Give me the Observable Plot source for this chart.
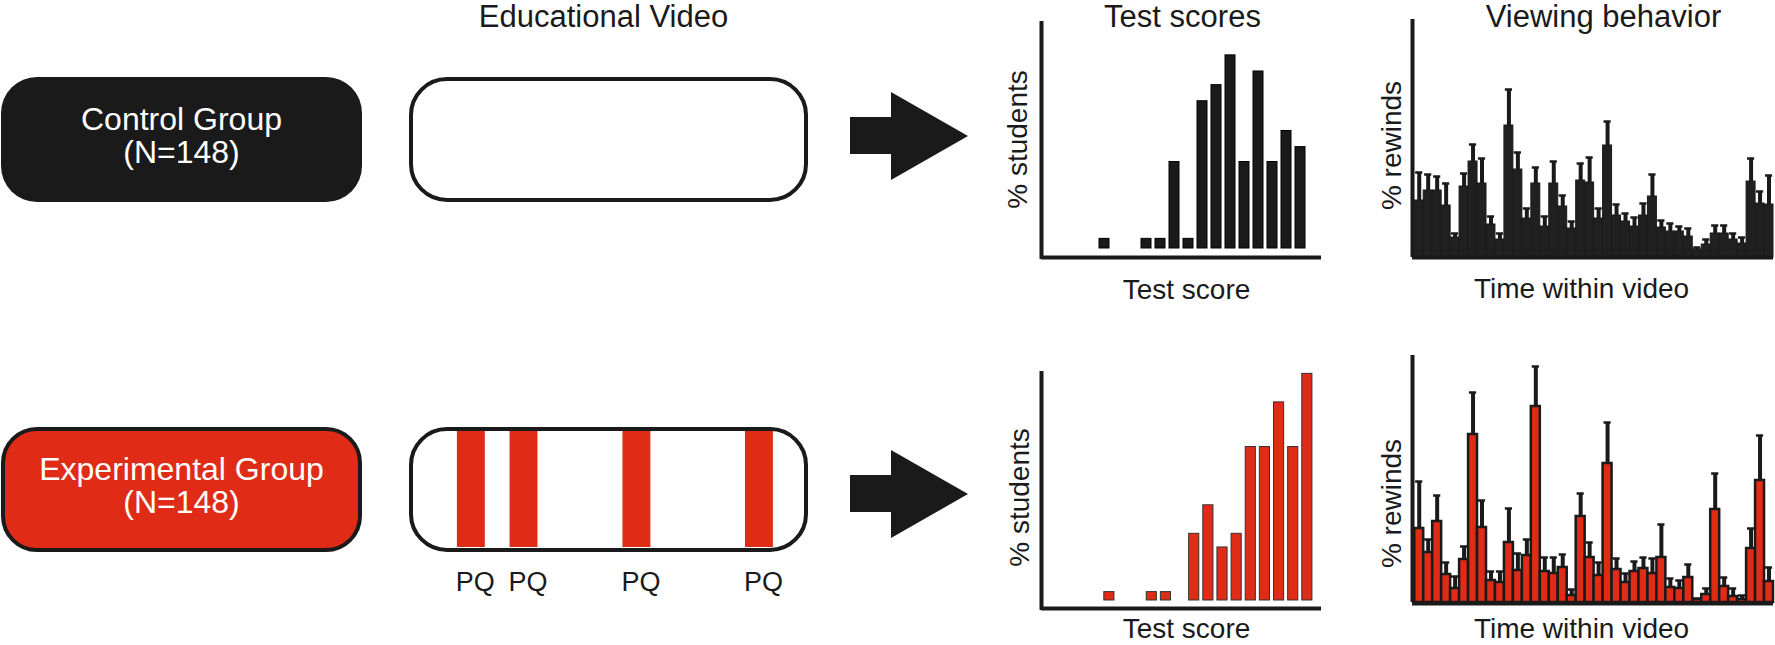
<!DOCTYPE html>
<html><head><meta charset="utf-8">
<script src="https://cdn.jsdelivr.net/npm/d3@7"></script>
<script src="https://cdn.jsdelivr.net/npm/@observablehq/plot@0.6"></script>
<style>
html,body{margin:0;padding:0;background:#fff;}
#root{position:relative;width:1775px;height:645px;overflow:hidden;font-family:"Liberation Sans",Arial,sans-serif;color:#1a1a1a;}
.slot{position:absolute;}
.group{position:absolute;left:1px;width:361px;height:125px;box-sizing:border-box;border-radius:36px;display:flex;align-items:center;justify-content:center;text-align:center;color:#fff;font-size:32px;line-height:33px;padding-bottom:8px;}
.video{position:absolute;left:409px;width:399px;height:125px;box-sizing:border-box;border:4px solid #1a1a1a;border-radius:38px;background:#fff;}
.arrow-body{position:absolute;left:850px;width:42px;height:37px;background:#1a1a1a;}
.arrow-head{position:absolute;left:891px;width:0;height:0;border-left:77px solid #1a1a1a;border-top:44px solid transparent;border-bottom:44px solid transparent;}
</style></head>
<body><div id="root"></div>
<script>
const BLACK = "#1a1a1a", RED = "#e02b17";
const FONT = '"Liberation Sans", Arial, sans-serif';

// ---- data ----
const groupNames = ["Control Group", "Experimental Group"];
const groupN = [148, 148];
const panelTitles = ["Educational Video", "Test scores", "Viewing behavior"];
const pqLabel = "PQ";
const pqPositions = [15.5, 28.7, 57.0, 87.7];   // % of video duration (experimental only)
const pqWidth = 7.0;                            // % of video duration

const controlScores = [4, 7, 8, 9, 10, 11, 12, 13, 14, 15, 16, 17, 18];
const controlPct    = [1.1, 1.1, 1.1, 7.3, 1.1, 12.2, 13.5, 15.9, 7.3, 14.6, 7.3, 9.8, 8.5];
const expScores     = [4, 7, 8, 10, 11, 12, 13, 14, 15, 16, 17, 18];
const expPct        = [1.0, 1.0, 1.0, 5.7, 8.0, 4.6, 5.7, 12.7, 12.7, 16.3, 12.7, 18.6];

const controlRewinds = [5.7, 6.7, 6.7, 5.2, 2.0, 7.1, 9.6, 7.4, 3.3, 1.8, 13.2, 8.8, 3.9, 7.4, 3.1, 7.4, 5.1, 2.9, 7.7, 7.5,
                        3.9, 11.2, 4.2, 3.6, 3.1, 4.2, 6.1, 3.0, 2.6, 2.6, 2.1, 0.8, 1.3, 2.4, 2.4, 1.8, 1.4, 7.6, 5.4, 5.3];
const controlRewindsHi = [8.5, 8.3, 8.1, 7.4, 2.4, 8.4, 11.3, 9.9, 4.1, 2.4, 16.8, 10.5, 4.9, 9.0, 4.1, 9.6, 6.2, 3.6, 9.4, 10.0,
                          4.9, 13.6, 5.3, 4.4, 4.0, 5.4, 8.3, 3.7, 3.4, 3.1, 2.9, 1.0, 1.8, 3.2, 3.2, 2.4, 2.0, 9.9, 6.6, 8.2];
const expRewinds = [7.4, 5.0, 8.1, 2.8, 1.4, 4.3, 16.8, 7.5, 2.2, 2.0, 6.0, 3.2, 4.7, 19.6, 3.1, 2.9, 3.5, 0.7, 8.6, 4.5,
                    2.7, 13.9, 3.3, 2.0, 3.1, 3.4, 2.9, 4.5, 1.5, 1.4, 2.5, 0.3, 0.8, 9.3, 1.6, 0.6, 0.3, 5.4, 12.2, 2.1];
const expRewindsHi = [12.1, 6.3, 10.7, 4.0, 2.6, 5.6, 21.0, 10.2, 3.1, 3.1, 9.4, 4.9, 6.3, 23.6, 4.5, 4.5, 4.8, 1.3, 10.9, 6.0,
                      4.0, 18.0, 4.4, 2.9, 4.1, 4.5, 4.4, 7.8, 2.4, 2.2, 3.8, 0.4, 1.4, 12.9, 2.5, 1.4, 0.7, 7.4, 16.7, 3.5];

const root = document.getElementById("root");
function place(node, left, top) {
  const d = document.createElement("div");
  d.className = "slot";
  d.style.left = left + "px"; d.style.top = top + "px";
  d.appendChild(node); root.appendChild(d); return d;
}
const baseStyle = {fontFamily: FONT, background: "transparent", overflow: "visible", maxWidth: "none", color: BLACK};

// ---- group boxes, video boxes, arrows ----
const rowTop = [77, 427];
groupNames.forEach((name, i) => {
  const g = document.createElement("div");
  g.className = "group";
  g.style.top = rowTop[i] + "px";
  g.style.background = i === 0 ? BLACK : RED;
  if (i === 1) g.style.border = "4px solid " + BLACK;
  g.innerHTML = name + "<br>(N=" + groupN[i] + ")";
  root.appendChild(g);
  const v = document.createElement("div");
  v.className = "video"; v.style.top = rowTop[i] + "px";
  root.appendChild(v);
});
[[117, 92], [475, 450]].forEach(([bt, ht]) => {
  const b = document.createElement("div"); b.className = "arrow-body"; b.style.top = bt + "px"; root.appendChild(b);
  const h = document.createElement("div"); h.className = "arrow-head"; h.style.top = ht + "px"; root.appendChild(h);
});

// ---- video timelines (practice-question stripes) ----
place(Plot.plot({
  width: 399, height: 202, marginLeft: 0, marginRight: 0, marginTop: 81, marginBottom: 4,
  x: {domain: [0, 100], axis: null}, style: baseStyle,
  marks: [
    Plot.text([panelTitles[0]], {frameAnchor: "top", lineAnchor: "bottom", textAnchor: "middle", dy: -55, dx: -5.5, fontSize: 31, fill: BLACK})
  ]
}), 409, 0);

place(Plot.plot({
  width: 399, height: 175, marginLeft: 0, marginRight: 0, marginTop: 4, marginBottom: 55,
  x: {domain: [0, 100], axis: null}, style: baseStyle,
  marks: [
    Plot.rect(pqPositions, {x1: d => d - pqWidth / 2, x2: d => d + pqWidth / 2, fill: RED}),
    Plot.text(pqPositions, {x: d => d, text: () => pqLabel, frameAnchor: "bottom", lineAnchor: "bottom", dy: 43, dx: 4, fontSize: 27, fill: BLACK})
  ]
}), 409, 427);

// ---- test score histograms ----
function histogram(scores, pct, opts) {
  const data = scores.map((s, i) => ({score: s, pct: pct[i]}));
  const marks = [
    Plot.rect(data, {x1: "score", x2: d => d.score + 1, y1: 0, y2: "pct", inset: 2,
      fill: opts.fill, stroke: opts.stroke, strokeWidth: 1}),
    Plot.ruleX([opts.xDomain[0]], {stroke: BLACK, strokeWidth: 4}),
    Plot.ruleY([0], {stroke: BLACK, strokeWidth: 4, dy: opts.axisDy}),
    Plot.text(["Test score"], {frameAnchor: "bottom", lineAnchor: "bottom", textAnchor: "middle", dy: opts.xLabelDy, dx: 5, fontSize: 28, fill: BLACK}),
    Plot.text(["% students"], {frameAnchor: "left", lineAnchor: "bottom", textAnchor: "middle", rotate: -90, dx: opts.yLabelDx, dy: opts.yLabelDy, fontSize: 28, fill: BLACK})
  ];
  if (opts.title) marks.push(Plot.text([opts.title], {frameAnchor: "top", lineAnchor: "bottom", textAnchor: "middle", dy: 5, dx: 1, fontSize: 31, fill: BLACK}));
  return Plot.plot({
    width: 340, height: opts.height, marginLeft: 51, marginRight: 9, marginTop: opts.mt, marginBottom: opts.mb,
    x: {domain: opts.xDomain, axis: null},
    y: {domain: [0, opts.yMax], axis: null, insetBottom: opts.insetBottom},
    style: baseStyle, marks
  });
}
place(histogram(controlScores, controlPct, {fill: BLACK, stroke: "#000", xDomain: [0, 20], yMax: 18.47, height: 310,
  mt: 21, mb: 51, insetBottom: 9, axisDy: 7, xLabelDy: 39, yLabelDx: -15, yLabelDy: -1, title: panelTitles[1]}), 990, 0);
place(histogram(expScores, expPct, {fill: RED, stroke: "#333", xDomain: [-0.3, 19.5], yMax: 18.63, height: 315,
  mt: 41, mb: 35, insetBottom: 8, axisDy: 6, xLabelDy: 27, yLabelDx: -13, yLabelDy: 6.5}), 990, 330);

// ---- rewind bar charts with error bars ----
function rewinds(vals, his, opts) {
  const data = vals.map((v, i) => ({i, v, hi: his[i]}));
  const marks = [
    Plot.rect(data, {x1: "i", x2: d => d.i + 1, y1: 0, y2: "v", fill: opts.fill, stroke: BLACK, strokeWidth: opts.sw}),
    Plot.ruleX(data, {x: d => d.i + 0.5, y1: "v", y2: "hi", stroke: BLACK, strokeWidth: 4}),
    Plot.ruleY(data, {x1: d => d.i + 0.1, x2: d => d.i + 0.9, y: "hi", stroke: BLACK, strokeWidth: 2.5}),
    Plot.ruleX([-0.25], {stroke: BLACK, strokeWidth: 4}),
    Plot.ruleY([0], {stroke: BLACK, strokeWidth: 4, dy: opts.axisDy}),
    Plot.text(["Time within video"], {frameAnchor: "bottom", lineAnchor: "bottom", textAnchor: "middle", dy: opts.xLabelDy, dx: -11.5, fontSize: 28, fill: BLACK}),
    Plot.text(["% rewinds"], {frameAnchor: "left", lineAnchor: "bottom", textAnchor: "middle", rotate: -90, dx: -12, dy: opts.yLabelDy, fontSize: 28, fill: BLACK})
  ];
  if (opts.title) marks.push(Plot.text([opts.title], {frameAnchor: "top", lineAnchor: "bottom", textAnchor: "middle", dy: 7, dx: 10.5, fontSize: 31, fill: BLACK}));
  return Plot.plot({
    width: 415, height: opts.height, marginLeft: 52, marginRight: 2, marginTop: opts.mt, marginBottom: opts.mb,
    x: {domain: [-0.25, 40], axis: null},
    y: {domain: [0, opts.yMax], axis: null},
    style: baseStyle, marks
  });
}
place(rewinds(controlRewinds, controlRewindsHi, {fill: "#202020", sw: 1, height: 310, mt: 19, mb: 53, yMax: 23.8,
  axisDy: 0, xLabelDy: 40, yLabelDy: 7, title: panelTitles[2]}), 1360, 0);
place(rewinds(expRewinds, expRewindsHi, {fill: RED, sw: 2.5, height: 315, mt: 25, mb: 43, yMax: 24.7,
  axisDy: 1, xLabelDy: 35, yLabelDy: 24.5}), 1360, 330);
</script>
</body></html>
